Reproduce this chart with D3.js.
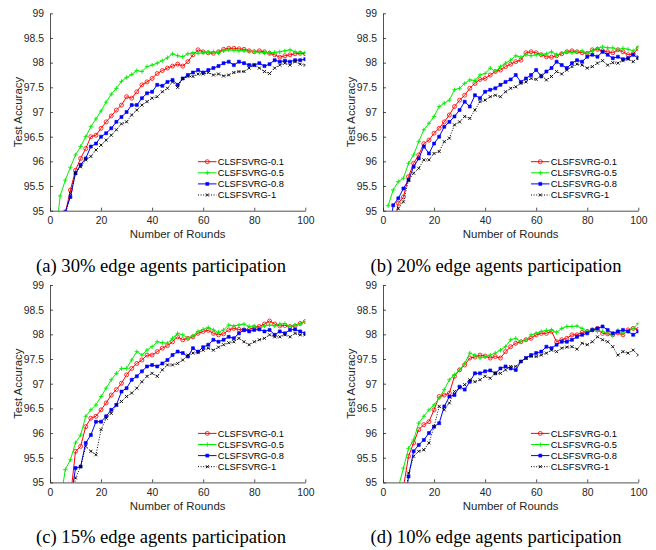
<!DOCTYPE html>
<html>
<head>
<meta charset="utf-8">
<script src="https://cdn.jsdelivr.net/npm/d3@7"></script>
<style>
  body { margin: 0; background: #fff; }
  svg { display: block; }
</style>
</head>
<body>
<div id="chart"></div>
<script>
// x values (communication rounds)
const rounds = [2, 4, 6, 8, 10, 12, 14, 16, 18, 20, 22, 24, 26, 28, 30, 32, 34, 36, 38, 40,
  42, 44, 46, 48, 50, 52, 54, 56, 58, 60, 62, 64, 66, 68, 70, 72, 74, 76, 78, 80,
  82, 84, 86, 88, 90, 92, 94, 96, 98, 100];

const seriesNames = ["CLSFSVRG-0.1", "CLSFSVRG-0.5", "CLSFSVRG-0.8", "CLSFSVRG-1"];
const captions = [
  "(a) 30% edge agents participation",
  "(b) 20% edge agents participation",
  "(c) 15% edge agents participation",
  "(d) 10% edge agents participation"
];
const xTicks = [0, 20, 40, 60, 80, 100];
const yTicks = [95, 95.5, 96, 96.5, 97, 97.5, 98, 98.5, 99];

// (a) 30%
const acc30_01 = [93.5, 94.3, 94.95, 95.42, 95.82, 96.06, 96.26, 96.5, 96.53, 96.67, 96.8, 96.92, 97.04, 97.14, 97.31, 97.28, 97.41, 97.55, 97.61, 97.68,
  97.78, 97.84, 97.89, 97.93, 97.97, 97.93, 98.02, 98.16, 98.26, 98.22, 98.2, 98.19, 98.22, 98.27, 98.29, 98.29, 98.28, 98.27, 98.24, 98.22,
  98.24, 98.22, 98.19, 98.16, 98.11, 98.14, 98.16, 98.18, 98.19, 98.18];
const acc30_05 = [94.4, 95.3, 95.62, 95.88, 96.13, 96.3, 96.5, 96.7, 96.86, 97.02, 97.2, 97.36, 97.48, 97.62, 97.7, 97.76, 97.84, 97.82, 97.92, 97.95,
  97.99, 98.04, 98.1, 98.18, 98.14, 98.12, 98.18, 98.2, 98.19, 98.2, 98.21, 98.22, 98.2, 98.24, 98.26, 98.25, 98.24, 98.24, 98.23, 98.22,
  98.21, 98.2, 98.2, 98.21, 98.22, 98.24, 98.26, 98.22, 98.2, 98.2];
const acc30_08 = [93.3, 94.2, 94.98, 95.28, 95.76, 95.93, 96.06, 96.3, 96.36, 96.5, 96.57, 96.67, 96.8, 96.9, 97.0, 97.14, 97.14, 97.28, 97.38, 97.41,
  97.55, 97.53, 97.61, 97.65, 97.55, 97.68, 97.75, 97.8, 97.85, 97.8, 97.85, 97.89, 97.93, 97.99, 98.02, 97.95, 98.02, 97.99, 97.95, 97.95,
  97.99, 97.93, 97.97, 98.05, 98.02, 98.04, 98.02, 98.05, 98.05, 98.07];
const acc30_1 = [93.2, 94.1, 94.9, 95.35, 95.76, 95.89, 96.03, 96.1, 96.23, 96.33, 96.43, 96.53, 96.64, 96.76, 96.8, 96.94, 97.04, 97.14, 97.21, 97.28,
  97.31, 97.41, 97.48, 97.61, 97.5, 97.68, 97.72, 97.72, 97.77, 97.77, 97.8, 97.75, 97.77, 97.73, 97.75, 97.8, 97.82, 97.82, 97.89, 97.95,
  97.89, 97.82, 97.78, 97.89, 97.95, 97.99, 97.95, 98.02, 97.97, 97.95];

// (b) 20%
const acc20_01 = [93.6, 94.6, 95.15, 95.28, 95.69, 95.96, 96.13, 96.36, 96.43, 96.57, 96.67, 96.8, 96.94, 97.11, 97.24, 97.34, 97.48, 97.58, 97.66, 97.68,
  97.75, 97.82, 97.85, 97.92, 97.97, 98.02, 98.05, 98.2, 98.22, 98.2, 98.16, 98.12, 98.11, 98.14, 98.18, 98.22, 98.24, 98.22, 98.2, 98.19,
  98.26, 98.27, 98.24, 98.22, 98.2, 98.26, 98.22, 98.16, 98.18, 98.29];
const acc20_05 = [95.1, 95.42, 95.59, 95.66, 95.96, 96.13, 96.4, 96.64, 96.77, 96.91, 97.11, 97.18, 97.24, 97.45, 97.48, 97.58, 97.65, 97.64, 97.75, 97.78,
  97.89, 97.82, 97.92, 97.99, 98.05, 98.14, 98.11, 98.16, 98.14, 98.16, 98.16, 98.18, 98.22, 98.16, 98.19, 98.22, 98.2, 98.22, 98.24, 98.19,
  98.24, 98.29, 98.32, 98.3, 98.3, 98.26, 98.29, 98.27, 98.24, 98.32];
const acc20_08 = [94.4, 95.11, 95.25, 95.45, 95.62, 95.89, 96.06, 96.3, 96.16, 96.36, 96.5, 96.7, 96.8, 96.91, 97.04, 97.21, 97.11, 97.34, 97.28, 97.41,
  97.45, 97.48, 97.55, 97.61, 97.66, 97.75, 97.61, 97.68, 97.75, 97.85, 97.72, 97.82, 97.89, 98.02, 97.95, 97.89, 97.99, 98.05, 98.02, 98.12,
  98.16, 98.12, 98.22, 98.16, 98.09, 98.12, 98.07, 98.09, 98.16, 98.09];
const acc20_1 = [93.5, 94.5, 95.05, 95.18, 95.62, 95.76, 95.86, 96.03, 96.03, 96.16, 96.2, 96.4, 96.47, 96.74, 96.8, 96.91, 96.87, 97.04, 97.21, 97.24,
  97.31, 97.34, 97.31, 97.41, 97.48, 97.51, 97.58, 97.61, 97.68, 97.66, 97.75, 97.65, 97.72, 97.82, 97.77, 97.85, 97.92, 97.97, 97.95, 97.89,
  97.92, 97.99, 98.04, 97.95, 98.0, 97.99, 98.04, 98.07, 98.02, 98.12];

// (c) 15%
const acc15_01 = [92.5, 93.3, 93.9, 94.7, 95.63, 95.73, 96.13, 96.3, 96.34, 96.47, 96.61, 96.77, 96.88, 97.01, 97.18, 97.31, 97.41, 97.48, 97.58, 97.58,
  97.65, 97.72, 97.77, 97.85, 97.95, 97.89, 97.92, 97.95, 98.02, 98.06, 98.08, 98.02, 97.99, 98.01, 98.09, 98.12, 98.1, 98.09, 98.1, 98.14,
  98.16, 98.21, 98.27, 98.21, 98.17, 98.18, 98.16, 98.17, 98.22, 98.26];
const acc15_05 = [93.8, 94.6, 95.26, 95.46, 95.8, 95.96, 96.34, 96.47, 96.57, 96.74, 96.91, 97.08, 97.21, 97.31, 97.31, 97.48, 97.65, 97.58, 97.68, 97.75,
  97.85, 97.83, 97.82, 97.92, 98.02, 97.99, 97.92, 97.97, 98.06, 98.1, 98.14, 98.09, 98.04, 98.09, 98.19, 98.17, 98.19, 98.21, 98.16, 98.17,
  98.12, 98.17, 98.19, 98.17, 98.21, 98.22, 98.16, 98.19, 98.21, 98.26];
const acc15_08 = [92.3, 93.1, 93.8, 94.6, 95.29, 95.32, 95.8, 95.96, 96.23, 96.23, 96.34, 96.47, 96.57, 96.84, 96.91, 97.08, 97.15, 97.25, 97.35, 97.38,
  97.35, 97.41, 97.48, 97.58, 97.65, 97.62, 97.55, 97.72, 97.65, 97.74, 97.79, 97.89, 97.85, 97.89, 97.95, 97.92, 98.02, 98.09, 98.06, 98.09,
  98.1, 98.06, 98.09, 97.99, 98.06, 98.02, 98.09, 98.1, 98.06, 98.02];
const acc15_1 = [92.2, 93.0, 93.7, 94.4, 95.09, 95.32, 95.73, 95.63, 95.56, 96.07, 96.3, 96.4, 96.57, 96.64, 96.74, 96.81, 96.91, 97.04, 97.15, 97.21,
  97.15, 97.28, 97.38, 97.38, 97.41, 97.48, 97.58, 97.62, 97.63, 97.68, 97.72, 97.68, 97.74, 97.79, 97.83, 97.85, 97.92, 97.85, 97.79, 97.85,
  97.89, 97.92, 97.99, 97.95, 97.95, 97.99, 97.95, 98.02, 97.99, 97.99];

// (d) 10%
const acc10_01 = [92.5, 93.3, 94.0, 94.9, 95.53, 95.8, 96.07, 96.17, 96.23, 96.47, 96.74, 96.77, 96.81, 97.15, 97.28, 97.38, 97.52, 97.54, 97.58, 97.56,
  97.52, 97.55, 97.52, 97.65, 97.75, 97.82, 97.85, 97.89, 97.92, 97.99, 98.02, 98.02, 98.06, 97.85, 97.89, 97.92, 97.99, 97.99, 98.04, 98.06,
  98.09, 98.12, 98.02, 98.01, 97.99, 98.03, 97.99, 98.09, 98.12, 98.1];
const acc10_05 = [92.8, 93.7, 94.9, 95.29, 95.69, 95.86, 96.2, 96.34, 96.47, 96.57, 96.71, 96.88, 97.08, 97.18, 97.28, 97.41, 97.62, 97.58, 97.52, 97.55,
  97.58, 97.62, 97.68, 97.75, 97.89, 97.92, 97.85, 97.89, 97.99, 98.02, 98.06, 98.08, 98.09, 98.04, 98.12, 98.16, 98.16, 98.17, 98.12, 98.06,
  98.09, 98.06, 98.06, 98.02, 97.99, 98.08, 98.02, 98.06, 98.12, 98.22];
const acc10_08 = [92.0, 92.8, 93.5, 94.3, 95.12, 95.63, 95.76, 95.86, 96.0, 96.13, 96.2, 96.54, 96.74, 96.77, 96.94, 96.88, 97.04, 97.21, 97.21, 97.25,
  97.27, 97.21, 97.31, 97.35, 97.31, 97.28, 97.45, 97.52, 97.58, 97.62, 97.65, 97.75, 97.72, 97.79, 97.85, 97.85, 97.89, 97.95, 97.99, 98.02,
  98.09, 98.12, 98.16, 98.09, 98.02, 98.06, 98.09, 98.06, 97.99, 98.06];
const acc10_1 = [92.0, 92.7, 93.4, 94.3, 95.19, 95.53, 95.63, 95.66, 95.8, 96.13, 96.54, 96.47, 96.61, 96.84, 96.91, 96.98, 97.08, 97.04, 97.08, 97.15,
  97.11, 97.21, 97.21, 97.28, 97.35, 97.35, 97.45, 97.52, 97.55, 97.55, 97.58, 97.62, 97.68, 97.65, 97.72, 97.74, 97.75, 97.7, 97.82, 97.79,
  97.85, 97.95, 97.89, 97.85, 97.75, 97.58, 97.65, 97.62, 97.68, 97.58];

const panels = [
  { caption: captions[0], left: 50, top: 13.3, series: [acc30_01, acc30_05, acc30_08, acc30_1] },
  { caption: captions[1], left: 383, top: 13.3, series: [acc20_01, acc20_05, acc20_08, acc20_1] },
  { caption: captions[2], left: 50, top: 285, series: [acc15_01, acc15_05, acc15_08, acc15_1] },
  { caption: captions[3], left: 383, top: 285, series: [acc10_01, acc10_05, acc10_08, acc10_1] }
];

const colors = ["#ff0000", "#00ee00", "#0000ff", "#000000"];
const dashes = [null, null, null, "1,1.6"];
const markerPaths = [
  null, // circle drawn separately
  "M-2.2,0H2.2M0,-2.2V2.2",
  "M-1.5,-1.5H1.5V1.5H-1.5Z",
  "M-1.5,-1.5L1.5,1.5M-1.5,1.5L1.5,-1.5"
];

const W = 656, H = 550;
const pw = 255.3, ph = 197.4;
const axisColor = "#262626";
const fontSans = "'Liberation Sans', Arial, Helvetica, sans-serif";

const svg = d3.select("#chart").append("svg")
  .attr("width", W)
  .attr("height", H)
  .attr("font-family", fontSans);

const x = d3.scaleLinear().domain([0, 100]).range([0, pw]);
const y = d3.scaleLinear().domain([95, 99]).range([ph, 0]);

const line = d3.line()
  .x((d) => x(d[0]))
  .y((d) => y(d[1]));

// draw one marker at (0,0) into a group
function drawMarker(g, k, color) {
  if (k === 0) {
    g.append("circle").attr("r", 2).attr("fill", "none")
      .attr("stroke", color).attr("stroke-width", 0.8);
  } else {
    g.append("path").attr("d", markerPaths[k])
      .attr("fill", k === 2 ? color : "none")
      .attr("stroke", color)
      .attr("stroke-width", k === 2 ? 0.6 : 0.9);
  }
}

panels.forEach((p, pi) => {
  const g = svg.append("g").attr("transform", `translate(${p.left},${p.top})`);

  g.append("clipPath").attr("id", "clip" + pi)
    .append("rect").attr("x", 0).attr("y", 0).attr("width", pw).attr("height", ph);

  // series
  const plot = g.append("g").attr("clip-path", `url(#clip${pi})`);
  p.series.forEach((vals, k) => {
    const pts = rounds.map((r, i) => [r, vals[i]]);
    plot.append("path")
      .attr("d", line(pts))
      .attr("fill", "none")
      .attr("stroke", colors[k])
      .attr("stroke-width", 1)
      .attr("stroke-dasharray", dashes[k]);
    pts.forEach((d) => {
      const m = plot.append("g").attr("transform", `translate(${x(d[0])},${y(d[1])})`);
      drawMarker(m, k, colors[k]);
    });
  });

  // axes (ticks drawn inward, no box)
  const xAxis = g.append("g").attr("transform", `translate(0,${ph})`)
    .call(d3.axisBottom(x).tickValues(xTicks).tickSizeInner(-3).tickSizeOuter(0).tickPadding(6));
  const yAxis = g.append("g")
    .call(d3.axisLeft(y).tickValues(yTicks).tickSizeInner(-3).tickSizeOuter(0).tickPadding(6)
      .tickFormat((d) => (d % 1 ? d.toFixed(1) : d)));
  [xAxis, yAxis].forEach((a) => {
    a.select(".domain").attr("stroke", axisColor).attr("stroke-width", 0.8);
    a.selectAll(".tick line").attr("stroke", axisColor).attr("stroke-width", 0.8);
    a.selectAll(".tick text").attr("fill", axisColor)
      .attr("font-size", 10.4).attr("font-family", fontSans);
  });

  // axis labels
  g.append("text")
    .attr("x", pw / 2).attr("y", ph + 27.5)
    .attr("text-anchor", "middle")
    .attr("font-size", 11.4).attr("fill", axisColor)
    .text("Number of Rounds");
  g.append("text")
    .attr("transform", `translate(-28.5,${ph / 2}) rotate(-90)`)
    .attr("text-anchor", "middle")
    .attr("font-size", 11.4).attr("fill", axisColor)
    .text("Test Accuracy");

  // legend
  const lg = g.append("g").attr("transform", "translate(148,148.4)");
  seriesNames.forEach((name, k) => {
    const row = lg.append("g").attr("transform", `translate(0,${k * 11.1})`);
    row.append("line")
      .attr("x1", 0).attr("x2", 18.5).attr("y1", 0).attr("y2", 0)
      .attr("stroke", colors[k]).attr("stroke-width", 1)
      .attr("stroke-dasharray", dashes[k]);
    drawMarker(row.append("g").attr("transform", "translate(9.3,0)"), k, colors[k]);
    row.append("text")
      .attr("x", 19.7).attr("y", 0).attr("dy", "0.35em")
      .attr("font-size", 9.3).attr("fill", "#000")
      .text(name);
  });

  // caption
  svg.append("text")
    .attr("x", pi % 2 === 0 ? 161 : 496)
    .attr("y", p.top + 258.3)
    .attr("text-anchor", "middle")
    .attr("font-family", "'Liberation Serif', 'Times New Roman', serif")
    .attr("font-size", 18.6).attr("fill", "#000")
    .text(p.caption);
});
</script>
</body>
</html>
